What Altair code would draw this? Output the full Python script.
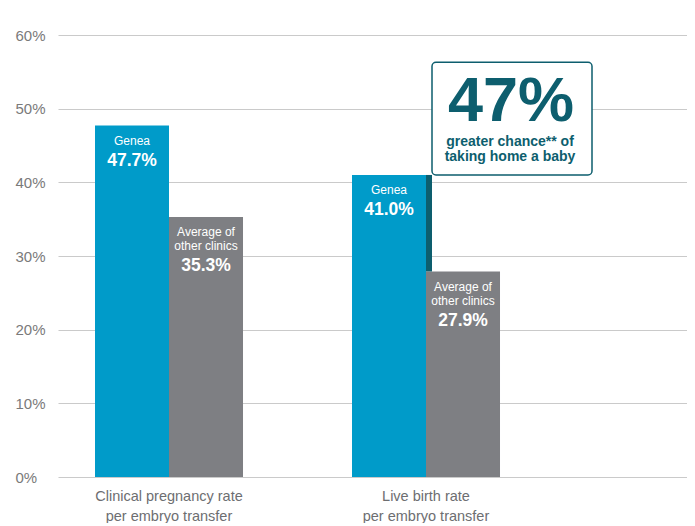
import altair as alt
import pandas as pd

# ---- data ----
categories = ["Clinical pregnancy rate\nper embryo transfer", "Live birth rate\nper embryo transfer"]
series = ["Genea", "Average of\nother clinics"]
genea_values = [47.7, 41.0]
other_values = [35.3, 27.9]
y_ticks = [0, 10, 20, 30, 40, 50, 60]
callout_big = "47%"
callout_lines = ["greater chance** of", "taking home a baby"]
callout_top = 56.3  # top of callout box in axis units

# ---- styles ----
BLUE = "#009bc9"
GREY = "#7e7f83"
TEAL = "#0d5e6e"
GRID = "#cacaca"
FONT = "Liberation Sans"

rows = []
for c, g, o in zip(categories, genea_values, other_values):
    rows.append({"category": c, "series": series[0], "value": g, "label": f"{g:.1f}%"})
    rows.append({"category": c, "series": series[1], "value": o, "label": f"{o:.1f}%"})
df = pd.DataFrame(rows)

diff = pd.DataFrame([{"category": categories[1], "genea": genea_values[1], "other": other_values[1]}])
box = pd.DataFrame([{"top": callout_top, "bottom": genea_values[1]}])

x_enc = alt.X("category:N", sort=categories,
              scale=alt.Scale(domain=categories, paddingInner=0.4241, paddingOuter=0.4358, align=0.1652),
              axis=alt.Axis(title=None, labelExpr="split(datum.label, '\\n')", labelAngle=0,
                            labelFontSize=14.5, labelColor="#6d6e71", labelFont=FONT,
                            labelPadding=12, labelLineHeight=20, labelBaseline="top",
                            domain=False, ticks=False, grid=False))
xo_enc = alt.XOffset("series:N", sort=series,
                     scale=alt.Scale(domain=series, paddingInner=0, paddingOuter=0))
y_scale = alt.Scale(domain=[0, 60], nice=False)

bars = alt.Chart(df).mark_bar().encode(
    x=x_enc,
    xOffset=xo_enc,
    y=alt.Y("value:Q", scale=y_scale,
            axis=alt.Axis(title=None, values=y_ticks, labelExpr="datum.value + '%'",
                          labelAlign="left", labelPadding=43, labelBaseline="middle",
                          labelFontSize=15, labelColor="#7a7a7a", labelFont=FONT,
                          domain=False, ticks=False, grid=True, gridColor=GRID, gridWidth=1.2)),
    color=alt.Color("series:N", scale=alt.Scale(domain=series, range=[BLUE, GREY]), legend=None),
)

rule = alt.Chart(diff).mark_rule(color=TEAL, strokeWidth=6, xOffset=3).encode(
    x=alt.X("category:N", sort=categories, bandPosition=0.5),
    y=alt.Y("genea:Q", scale=y_scale),
    y2="other:Q",
)

callout = alt.Chart(box).mark_rect(fill="white", stroke=TEAL, strokeWidth=1.5, cornerRadius=4).encode(
    x=alt.value(374), x2=alt.value(534),
    y=alt.Y("top:Q", scale=y_scale), y2="bottom:Q",
)

big = alt.Chart(pd.DataFrame([{"t": callout_big}])).mark_text(
    font=FONT, fontSize=63, fontWeight="bold", color=TEAL, align="center", baseline="alphabetic"
).encode(x=alt.value(453), y=alt.value(86), text="t:N")

small = alt.Chart(pd.DataFrame([{"t": "\n".join(callout_lines)}])).mark_text(
    font=FONT, fontSize=14, fontWeight="bold", color=TEAL, align="center", baseline="alphabetic",
    lineBreak="\n", lineHeight=15
).encode(x=alt.value(452), y=alt.value(111), text="t:N")

def bar_text(sname, field, dy, size, weight):
    return alt.Chart(df).transform_filter(
        alt.FieldEqualPredicate(field="series", equal=sname)
    ).mark_text(font=FONT, fontSize=size, fontWeight=weight, color="white", align="center",
                baseline="alphabetic", dy=dy, lineBreak="\n", lineHeight=14).encode(
        x=alt.X("category:N", sort=categories),
        xOffset=alt.XOffset("series:N", sort=series),
        y=alt.Y("value:Q", scale=y_scale),
        text=f"{field}:N",
    )

texts = [
    bar_text(series[0], "series", 19.5, 12, "normal"),
    bar_text(series[0], "label", 40, 17.5, "bold"),
    bar_text(series[1], "series", 19.5, 12, "normal"),
    bar_text(series[1], "label", 54.5, 17.5, "bold"),
]

chart = alt.layer(bars, rule, callout, big, small, *texts).properties(
    width=629, height=442,
    autosize=alt.AutoSizeParams(type="none"),
    padding={"left": 50, "top": 27, "right": 0, "bottom": 46},
).configure_view(stroke=None)

chart.save("out.html", embed_options={"renderer": "svg", "actions": False})
